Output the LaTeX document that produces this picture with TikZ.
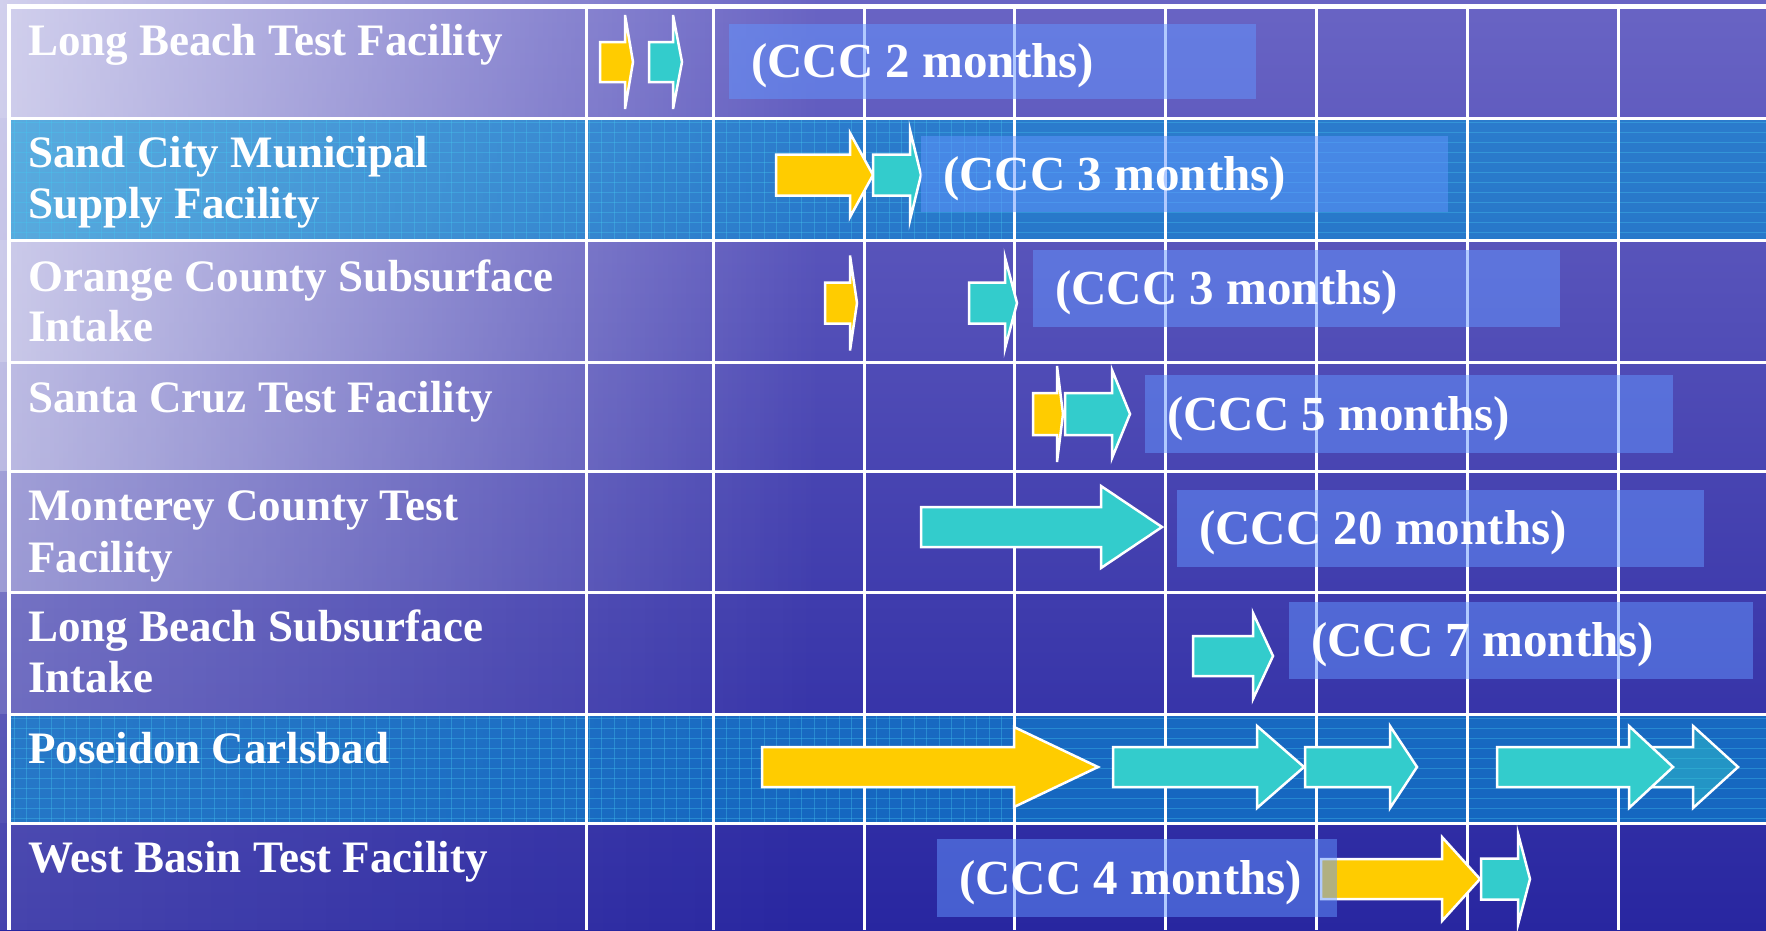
\documentclass[tikz,border=0pt]{standalone}
\usepackage{fontspec}
\setmainfont{Liberation Serif}
\usetikzlibrary{fadings}
\definecolor{bgtop}{RGB}{105,100,196}
\definecolor{bgbot}{RGB}{40,38,160}
\definecolor{hl}{RGB}{0,150,215}
\definecolor{arY}{RGB}{255,204,0}
\definecolor{arC}{RGB}{51,204,204}
\definecolor{boxc}{RGB}{100,150,255}
\definecolor{gridc}{RGB}{70,200,240}
\tikzfading[name=haze, left color=transparent!30, right color=transparent!100]
\tikzset{
  lab/.style={anchor=base west, inner sep=0pt, text=white, font=\fontsize{45}{54}\selectfont\bfseries},
  ccc/.style={anchor=base west, inner sep=0pt, text=white, font=\fontsize{49}{58}\selectfont\bfseries},
  yarrow/.style={fill=arY, draw=white, line width=2.5pt, line join=miter},
  carrow/.style={fill=arC, draw=white, line width=2.5pt, line join=miter},
  farrow/.style={fill=arC, fill opacity=0.45, draw=white, line width=2.5pt, line join=miter},
  cccbox/.style={fill=boxc, fill opacity=0.5},
  gline/.style={white, line width=3pt},
  hlrow/.style={fill=hl, fill opacity=0.55},
  fine/.style={gridc, line width=0.8pt, opacity=0.35},
  hazefill/.style={fill=white, path fading=haze}
}
% style, x0, xb, xt, yc, shaft half height, head half height
\newcommand{\blockarrow}[7]{%
  \path[#1] (#2,#5-#6) -- (#3,#5-#6) -- (#3,#5-#7) -- (#4,#5) -- (#3,#5+#7) -- (#3,#5+#6) -- (#2,#5+#6) -- cycle;}
\newcommand{\hlband}[2]{% top, bottom
  \fill[hlrow] (9,#1) rectangle (1766,#2);
  \begin{scope}
    \clip (9,#1) rectangle (1766,#2);
    \foreach \k in {0,...,12} {\draw[fine] (9,#1+4+10*\k) -- (1766,#1+4+10*\k);}
    \foreach \k in {0,...,80} {\draw[fine] (14+12.5*\k,#1) -- (14+12.5*\k,#2);}
  \end{scope}}
\begin{document}
\begin{tikzpicture}[x=1pt,y=-1pt]
\useasboundingbox (0,0) rectangle (1766,930);
% background
\shade[top color=bgtop, bottom color=bgbot] (0,0) rectangle (1766,930);
% left haze, row by row (steps hidden under the grid lines)
\fill[hazefill, fill opacity=1.0] (0,0) rectangle (820,118);
\fill[hazefill, fill opacity=0.95] (0,118) rectangle (820,240);
\fill[hazefill, fill opacity=1.0] (0,240) rectangle (820,362);
\fill[hazefill, fill opacity=0.9] (0,362) rectangle (820,471);
\fill[hazefill, fill opacity=0.7] (0,471) rectangle (820,592);
\fill[hazefill, fill opacity=0.4] (0,592) rectangle (820,714);
\fill[hazefill, fill opacity=0.25] (0,714) rectangle (820,823);
\fill[hazefill, fill opacity=0.2] (0,823) rectangle (820,930);
% highlighted rows
\hlband{118}{240}
\hlband{714}{823}
% grid
\foreach \xx in {586.5,713,864,1014.5,1165.5,1316,1467,1618} {\draw[gline] (\xx,6.5) -- (\xx,930);}
\foreach \yy in {118,240,362,471,592,714,823} {\draw[gline] (9,\yy) -- (1766,\yy);}
\draw[white, line width=5pt] (7,6.5) -- (1766,6.5);
\draw[white, line width=4pt] (9,4) -- (9,930);
% arrows
\blockarrow{yarrow}{600}{625}{633}{62}{20}{47}
\blockarrow{carrow}{649}{673}{682}{62}{20}{47}
\blockarrow{yarrow}{776}{850}{873}{175}{20.5}{42}
\blockarrow{carrow}{873}{910}{921}{175}{20.5}{45}
\blockarrow{yarrow}{825}{850}{857}{303}{20.5}{47.5}
\blockarrow{carrow}{969}{1005}{1017}{303}{20.5}{45.5}
\blockarrow{yarrow}{1033}{1057}{1063}{414}{21}{48}
\blockarrow{carrow}{1065}{1112}{1130}{414}{21}{44}
\blockarrow{carrow}{921}{1101}{1162}{527}{20}{41}
\blockarrow{carrow}{1193}{1253}{1273}{656}{20}{43}
\blockarrow{yarrow}{762}{1014}{1098}{767}{20}{40}
\blockarrow{carrow}{1113}{1257}{1304}{767}{20}{41}
\blockarrow{carrow}{1305}{1390}{1417}{767}{20}{41}
\blockarrow{farrow}{1640}{1693}{1738}{767}{20}{41}
\blockarrow{carrow}{1497}{1629}{1673}{767}{20}{41}
\blockarrow{yarrow}{1321}{1442}{1480}{879}{20}{42}
\blockarrow{carrow}{1481}{1518}{1530}{879}{20.5}{45.5}
% CCC boxes
\fill[cccbox] (729,24) rectangle (1256,99);
\fill[cccbox] (921,136) rectangle (1448,212);
\fill[cccbox] (1033,250) rectangle (1560,327);
\fill[cccbox] (1145,375) rectangle (1673,453);
\fill[cccbox] (1177,490) rectangle (1704,567);
\fill[cccbox] (1289,602) rectangle (1753,679);
\fill[cccbox] (937,839) rectangle (1337,917);
\node[ccc] (c1) at (751,77.5) {(CCC 2 months)};
\node[ccc] (c2) at (943,190) {(CCC 3 months)};
\node[ccc] (c3) at (1055,304.5) {(CCC 3 months)};
\node[ccc] (c4) at (1167,430) {(CCC 5 months)};
\node[ccc] (c5) at (1199,544.5) {(CCC 20 months)};
\node[ccc] (c6) at (1311,656.5) {(CCC 7 months)};
\node[ccc] (c8) at (959,894) {(CCC 4 months)};
% row labels
\node[lab] (r1) at (28,55) {Long Beach Test Facility};
\node[lab] (r2a) at (28,167) {Sand City Municipal};
\node[lab] (r2b) at (28,218) {Supply Facility};
\node[lab] (r3a) at (28,291) {Orange County Subsurface};
\node[lab] (r3b) at (28,341) {Intake};
\node[lab] (r4) at (28,412) {Santa Cruz Test Facility};
\node[lab] (r5a) at (28,520) {Monterey County Test};
\node[lab] (r5b) at (28,572) {Facility};
\node[lab] (r6a) at (28,641) {Long Beach Subsurface};
\node[lab] (r6b) at (28,692) {Intake};
\node[lab] (r7) at (28,763) {Poseidon Carlsbad};
\node[lab] (r8) at (28,872) {West Basin Test Facility};
\end{tikzpicture}
\end{document}
